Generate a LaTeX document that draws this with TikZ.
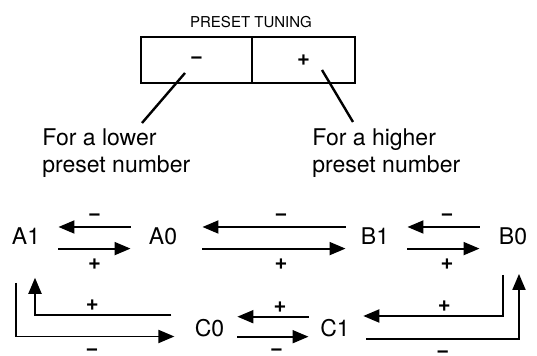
\documentclass[tikz,border=0pt]{standalone}
\usepackage{fontspec}
\setmainfont{TeX Gyre Heros}
\usepackage{tikz}
\usetikzlibrary{arrows.meta,positioning,calc}

\begin{document}
\begin{tikzpicture}[
    x=0.5pt, y=-0.5pt,
    key/.style={rectangle, draw=black, line width=1pt, minimum height=23pt, inner sep=0pt, font=\fontsize{11}{12}\selectfont\bfseries},
    chan/.style={inner sep=0pt, font=\fontsize{11.5}{13.5}\selectfont},
    note/.style={inner sep=0pt, align=left, font=\fontsize{11.5}{13.5}\selectfont},
    arrow/.style={-{Triangle[length=8pt,width=6.5pt]}, line width=0.95pt},
    leader/.style={line width=1.2pt},
    sign/.style={anchor=base, inner sep=0pt, font=\fontsize{11}{12}\selectfont\bfseries},
    mup/.style={sign, yshift=3.4pt},
    pdown/.style={sign, yshift=-10.7pt},
    pup/.style={sign, yshift=2pt},
    mdown/.style={sign, yshift=-9.4pt}
]
\useasboundingbox (0,0) rectangle (537,356);

% Preset tuning keys
\node[inner sep=0pt, anchor=base, font=\fontsize{7.5}{9}\selectfont] (title) at (251,28) {PRESET TUNING};
\node[key, minimum width=55.5pt] (minus) at (196.5,60) {−};
\node[key, minimum width=51.5pt] (plus) at (303.5,60) {\raisebox{-1.5pt}{+}};

% Notes
\node[note, anchor=north west] (lower) at (42,128) {For a lower\\preset number};
\node[note, anchor=north west] (higher) at (312,128) {For a higher\\preset number};
\coordinate (lowtip) at (142,123);
\coordinate (hightip) at (353,122);
\draw[leader] ([xshift=-5.75pt,yshift=-6.5pt]minus.center) -- (lowtip);
\draw[leader] ([xshift=9.25pt,yshift=-5pt]plus.center) -- (hightip);

% Channels
\node[chan] (a1) at (26,236) {A1};
\node[chan] (a0) at (163,236) {A0};
\node[chan] (b1) at (375,236) {B1};
\node[chan] (b0) at (513,236) {B0};
\node[chan] (c0) at (209.5,328.5) {C0};
\node[chan] (c1) at (335,328.5) {C1};

% Upper row
\draw[arrow] ([xshift=-9pt,yshift=4.5pt]a0.west) -- node[mup] {−} ([xshift=9pt,yshift=4.5pt]a1.east);
\draw[arrow] ([xshift=9pt,yshift=-6.3pt]a1.east) -- node[pdown] {+} ([xshift=-9pt,yshift=-6.3pt]a0.west);
\draw[arrow] ([xshift=-7.5pt,yshift=4.5pt]b1.west) -- node[mup, pos=0.45] {−} ([xshift=12.5pt,yshift=4.5pt]a0.east);
\draw[arrow] ([xshift=12.5pt,yshift=-6.3pt]a0.east) -- node[pdown, pos=0.55] {+} ([xshift=-7.5pt,yshift=-6.3pt]b1.west);
\draw[arrow] ([xshift=-9.5pt,yshift=4.5pt]b0.west) -- node[mup, pos=0.45] {−} ([xshift=9pt,yshift=4.5pt]b1.east);
\draw[arrow] ([xshift=9pt,yshift=-6.3pt]b1.east) -- node[pdown, pos=0.55] {+} ([xshift=-9.5pt,yshift=-6.3pt]b0.west);

% Lower row
\draw[arrow] ([xshift=-5.7pt,yshift=5.9pt]c1.west) -- node[pup, pos=0.4] {+} ([xshift=6.4pt,yshift=5.9pt]c0.east);
\draw[arrow] ([xshift=6.4pt,yshift=-4.1pt]c0.east) -- node[mdown, pos=0.55] {−} ([xshift=-5.7pt,yshift=-4.1pt]c1.west);

% Wrap-around
\draw[arrow] ([xshift=-11.5pt,yshift=6.75pt]c0.west) -| node[pup, pos=0.29] {+} ([xshift=4.5pt,yshift=-16.5pt]a1.south);
\draw[arrow] ([xshift=-5pt,yshift=-19pt]a1.south) |- node[mdown, pos=0.74] {−} ([xshift=-10pt,yshift=-4pt]c0.west);
\draw[arrow] ([xshift=-5pt,yshift=-15pt]b0.south) |- node[pup, pos=0.71] {+} ([xshift=6.6pt,yshift=6.25pt]c1.east);
\draw[arrow] ([xshift=8.2pt,yshift=-5.25pt]c1.east) -| node[mdown, pos=0.25] {−} ([xshift=3pt,yshift=-14.5pt]b0.south);

\end{tikzpicture}
\end{document}
